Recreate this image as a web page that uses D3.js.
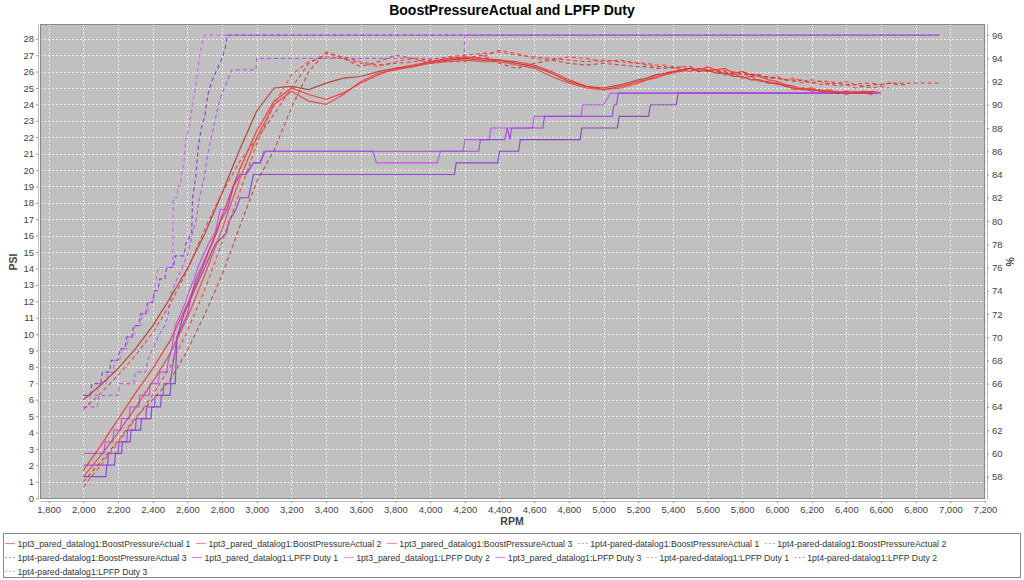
<!DOCTYPE html>
<html><head><meta charset="utf-8">
<script src="https://cdn.jsdelivr.net/npm/d3@7"></script>
<style>body{margin:0;background:#fff;} svg{display:block;font-family:"Liberation Sans",Arial,sans-serif;}</style>
</head><body><svg id="c" width="1024" height="580"></svg>
<script>
const chartTitle = "BoostPressureActual and LPFP Duty";
const xTicks = [1800,2000,2200,2400,2600,2800,3000,3200,3400,3600,3800,4000,4200,4400,4600,4800,5000,5200,5400,5600,5800,6000,6200,6400,6600,6800,7000,7200];
const psiTicks = [0,1,2,3,4,5,6,7,8,9,10,11,12,13,14,15,16,17,18,19,20,21,22,23,24,25,26,27,28];
const pctTicks = [58,60,62,64,66,68,70,72,74,76,78,80,82,84,86,88,90,92,94,96];

// shared RPM grid for boost series
const rpm = [2000,2100,2200,2300,2400,2500,2600,2700,2800,2900,3000,3100,3200,3300,3400,3500,3600,3700,3800,3900,4000,4100,4200,4300,4400,4500,4600,4700,4800,4900,5000,5100,5200,5250,5300,5350,5400,5450,5500,5550,5600,5650,5700,5750,5800,5850,5900,5950,6000,6050,6100,6150,6200,6250,6300,6350,6400,6450,6500,6550,6600,6650,6700,6750,6800,6850,6900,6950];

const bpa1_1pt3 = [6.0,6.9,7.9,9.1,10.5,12.2,14.0,16.1,18.6,21.2,23.6,25.0,25.1,24.9,25.3,25.6,25.7,26.0,26.2,26.3,26.6,26.7,26.8,26.7,26.7,26.5,26.3,25.9,25.4,25.1,25.0,25.2,25.5,25.6,25.8,25.9,26.0,26.1,26.2,26.0,26.1,25.9,25.9,25.7,25.7,25.5,25.5,25.3,25.3,25.1,25.0,24.9,24.9,24.8,24.8,24.7,24.8,24.7,24.8,24.7];
const bpa2_1pt3 = [1.7,3.2,4.8,6.4,7.9,9.6,11.8,14.4,17.2,20.0,22.4,24.2,25.0,24.6,24.3,24.7,25.3,25.8,26.2,26.4,26.6,26.8,26.9,26.8,26.7,26.6,26.4,26.0,25.5,25.1,24.9,25.1,25.4,25.5,25.7,25.8,26.0,26.0,26.2,26.1,26.3,26.1,26.2,25.9,26.0,25.8,25.7,25.5,25.4,25.2,25.1,24.9,25.0,24.8,24.9,24.7,24.8,24.7,24.7,24.8,24.7];
const bpa3_1pt3 = [1.3,2.6,4.0,5.5,7.1,8.8,11.0,13.6,16.4,19.4,22.0,24.0,24.8,24.2,24.0,24.6,25.4,25.9,26.1,26.3,26.5,26.6,26.7,26.6,26.6,26.4,26.2,25.7,25.3,25.0,24.9,25.0,25.3,25.5,25.6,25.8,25.9,26.1,26.0,26.2,26.0,26.1,25.8,25.9,25.6,25.7,25.4,25.4,25.2,25.2,24.9,25.0,24.8,24.9,24.7,24.8,24.6,24.8,24.7,24.6];
const bpa1_1pt4 = [5.4,6.4,7.5,8.7,10.1,11.8,13.9,16.4,18.6,20.5,21.9,23.4,25.0,26.5,27.1,26.9,26.6,26.4,26.5,26.6,26.7,26.9,27.0,27.1,27.2,27.0,26.9,26.8,26.7,26.6,26.7,26.6,26.5,26.4,26.3,26.3,26.2,26.3,26.1,26.2,26.0,26.1,25.9,26.0,25.8,25.9,25.7,25.7,25.6,25.5,25.5,25.3,25.4,25.2,25.3,25.1,25.2,25.0,25.1,25.0,25.1,25.0];
const bpa2_1pt4 = [0.7,2.0,3.4,4.8,6.3,8.0,10.2,12.7,15.6,18.6,21.6,24.0,25.8,26.6,26.9,26.8,26.5,26.3,26.6,26.8,26.7,26.6,26.6,26.9,27.3,27.1,26.8,26.7,26.9,26.8,26.6,26.7,26.5,26.5,26.4,26.4,26.2,26.3,26.3,26.1,26.2,26.0,26.1,25.9,26.0,25.8,25.8,25.6,25.7,25.5,25.6,25.4,25.5,25.4,25.4,25.3,25.4,25.2,25.3,25.3,25.2,25.3,25.3,25.3,25.3,25.3,25.3,25.3];
const bpa3_1pt4 = [1.0,2.2,3.5,4.9,6.0,7.2,9.0,11.2,13.6,16.5,19.3,21.2,23.8,26.0,27.2,26.8,26.3,26.6,27.0,26.8,26.5,26.7,26.8,27.0,26.5,26.2,26.5,26.7,26.5,26.4,26.5,26.4,26.3,26.3,26.2,26.2,26.3,26.1,26.2,26.0,26.1,25.9,26.0,25.8,25.9,25.7,25.8,25.6,25.6,25.5,25.4,25.5,25.3,25.4,25.2,25.3,25.2,25.2,25.1,25.2,25.2,25.3,25.2,25.2];

// LPFP duty series as [rpm, %] vertices
const lpfp1_1pt3 = [[2000,58],[2130,58],[2135,59],[2180,59],[2185,60],[2220,60],[2225,61],[2270,61],[2275,62],[2330,62],[2335,63],[2390,63],[2395,64],[2445,64],[2450,65],[2500,65],[2505,66],[2530,66],[2540,70],[2560,71],[2580,72],[2610,73],[2640,74],[2670,75],[2700,76],[2730,77],[2760,78],[2826,79],[2840,80],[2880,81],[2904,82],[2952,82],[2981,84],[4140,84],[4150,85],[4390,85],[4400,86],[4510,86],[4520,87],[4865,87],[4875,88],[5080,88],[5090,89],[5260,89],[5270,90],[5420,90],[5430,91],[6560,91]];
const lpfp2_1pt3 = [[2000,60],[2120,60],[2125,61],[2170,61],[2175,62],[2215,62],[2220,63],[2265,63],[2270,64],[2320,64],[2325,65],[2380,65],[2385,66],[2430,66],[2440,67],[2480,67],[2490,68],[2510,69],[2530,71],[2560,72],[2590,73],[2610,74],[2640,75],[2660,76],[2690,77],[2720,78],[2760,79],[2790,81],[2830,81],[2865,83],[2904,84],[2932,84],[2981,85],[3019,85],[3040,86],[3670,86],[3690,85],[4040,85],[4060,86],[4190,86],[4200,87],[4340,87],[4350,88],[4590,88],[4600,89],[4870,89],[4880,90],[5000,90],[5040,91],[6600,91]];
const lpfp3_1pt3 = [[2000,59],[2140,59],[2145,60],[2200,60],[2205,61],[2250,61],[2255,62],[2300,62],[2305,63],[2360,63],[2365,64],[2410,64],[2415,65],[2460,65],[2465,66],[2500,66],[2520,68],[2540,70],[2570,71],[2600,72],[2630,74],[2650,75],[2680,76],[2710,77],[2740,78],[2770,79],[2790,80],[2830,81],[2865,83],[2904,84],[2940,84],[2981,85],[3019,85],[3050,86],[4280,86],[4290,87],[4430,87],[4445,88],[4460,87],[4470,88],[4650,88],[4660,89],[5050,89],[5060,90],[5075,90],[5085,91],[6580,91]];
const lpfp1_1pt4 = [[2000,64],[2030,64],[2040,65],[2080,65],[2090,66],[2130,66],[2140,67],[2170,67],[2180,68],[2210,68],[2220,69],[2250,69],[2260,70],[2290,70],[2300,71],[2330,71],[2340,72],[2370,72],[2380,73],[2400,73],[2410,74],[2420,75],[2430,76],[2515,76],[2519,82],[2540,82],[2545,83],[2560,83],[2565,84],[2580,85],[2590,87],[2610,88],[2620,89],[2640,91],[2660,93],[2680,95],[2700,96],[6940,96]];
const lpfp2_1pt4 = [[2000,65],[2040,65],[2050,66],[2100,66],[2110,67],[2150,67],[2160,68],[2200,68],[2210,69],[2240,69],[2250,70],[2280,70],[2290,71],[2320,71],[2330,72],[2360,72],[2370,73],[2400,73],[2410,74],[2430,74],[2440,75],[2470,75],[2480,76],[2520,76],[2530,77],[2580,77],[2590,78],[2625,79],[2630,82],[2650,84],[2660,86],[2680,88],[2700,89],[2720,91],[2740,92],[2770,93],[2800,94],[2820,95],[2830,96],[6940,96]];
const lpfp3_1pt4 = [[2000,64],[2080,64],[2090,65],[2200,65],[2210,66],[2290,66],[2300,67],[2360,67],[2370,68],[2400,69],[2430,70],[2470,71],[2490,72],[2510,74],[2540,75],[2570,76],[2600,77],[2630,79],[2650,80],[2670,82],[2700,84],[2720,86],[2750,88],[2780,90],[2800,91],[2830,92],[2855,93],[2995,93],[3000,94],[4195,94],[4200,96],[6940,96]];

const seriesNames = [
 "1pt3_pared_datalog1:BoostPressureActual 1","1pt3_pared_datalog1:BoostPressureActual 2","1pt3_pared_datalog1:BoostPressureActual 3",
 "1pt4-pared-datalog1:BoostPressureActual 1","1pt4-pared-datalog1:BoostPressureActual 2","1pt4-pared-datalog1:BoostPressureActual 3",
 "1pt3_pared_datalog1:LPFP Duty 1","1pt3_pared_datalog1:LPFP Duty 2","1pt3_pared_datalog1:LPFP Duty 3",
 "1pt4-pared-datalog1:LPFP Duty 1","1pt4-pared-datalog1:LPFP Duty 2","1pt4-pared-datalog1:LPFP Duty 3"];
const seriesColors = ["#b4302c","#ff2a2a","#ee3b3b","#e8403a","#ff3a3a","#c0403c","#8c3cc8","#c050f0","#a040e0","#c864ff","#9038c0","#b458f0"];
const legendRows = [5,6,1];

const boostVals = [bpa1_1pt3,bpa2_1pt3,bpa3_1pt3,bpa1_1pt4,bpa2_1pt4,bpa3_1pt4];
const lpfpVals = [lpfp1_1pt3,lpfp2_1pt3,lpfp3_1pt3,lpfp1_1pt4,lpfp2_1pt4,lpfp3_1pt4];

const svg = d3.select("#c");
const W=1024,H=580;
const P={l:40,r:985,t:24,b:499};
const x=d3.scaleLinear().domain([1750,7200]).range([P.l,P.r]);
const yL=d3.scaleLinear().domain([-0.05,28.9]).range([P.b,P.t]);
const yR=d3.scaleLinear().domain([56.08,96.95]).range([P.b,P.t]);

svg.append("rect").attr("width",W).attr("height",H).attr("fill","#fff");
svg.append("text").attr("x",512).attr("y",15).attr("text-anchor","middle")
  .attr("font-weight","bold").attr("font-size",14).attr("fill","#000").text(chartTitle);

svg.append("rect").attr("x",P.l).attr("y",P.t).attr("width",P.r-P.l).attr("height",P.b-P.t).attr("fill","#c0c0c0");

const grid = svg.append("g");
grid.selectAll(".gx").data(xTicks.filter(t=>x(t)>P.l && x(t)<=P.r)).join("line")
  .attr("x1",d=>Math.round(x(d))+0.5).attr("x2",d=>Math.round(x(d))+0.5).attr("y1",P.t).attr("y2",P.b)
  .attr("stroke","#ececec").attr("stroke-dasharray","2,2").attr("stroke-width",1);
grid.selectAll(".gy").data(psiTicks).join("line")
  .attr("y1",d=>Math.round(yL(d))+0.5).attr("y2",d=>Math.round(yL(d))+0.5).attr("x1",P.l).attr("x2",P.r)
  .attr("stroke","#ececec").attr("stroke-dasharray","2,2").attr("stroke-width",1);

svg.append("clipPath").attr("id","clip").append("rect").attr("x",P.l).attr("y",P.t).attr("width",P.r-P.l).attr("height",P.b-P.t);
const g = svg.append("g").attr("clip-path","url(#clip)");

const lineL = d3.line().x(d=>x(d[0])).y(d=>yL(d[1]));
const lineR = d3.line().x(d=>x(d[0])).y(d=>yR(d[1]));

// LPFP first (underneath), then boost
lpfpVals.forEach((arr,i)=>{
  g.append("path").attr("d",lineR(arr)).attr("fill","none")
   .attr("stroke",seriesColors[6+i]).attr("stroke-width",1.2).attr("stroke-opacity",0.9)
   .attr("stroke-dasharray", i>=3 ? "4,3" : null);
});
boostVals.forEach((vals,i)=>{
  const pts = vals.map((v,k)=>[rpm[k],v]);
  g.append("path").attr("d",lineL(pts)).attr("fill","none")
   .attr("stroke",seriesColors[i]).attr("stroke-width",1.2).attr("stroke-opacity",0.85)
   .attr("stroke-dasharray", i>=3 ? "4,3" : null);
});

// plot outline
svg.append("rect").attr("x",P.l+0.5).attr("y",P.t+0.5).attr("width",P.r-P.l-1).attr("height",P.b-P.t-1)
  .attr("fill","none").attr("stroke","#888");

function styleAxis(sel){
  sel.selectAll("text").attr("fill","#444").attr("font-size",9.5).attr("font-family","Liberation Sans, Arial, sans-serif");
  sel.selectAll(".tick line").attr("stroke","#999");
  sel.select(".domain").attr("stroke","#bbb");
}
const ax = svg.append("g").attr("transform",`translate(0,${P.b+2})`)
  .call(d3.axisBottom(x).tickValues(xTicks).tickFormat(d3.format(",")).tickSize(2).tickSizeOuter(0).tickPadding(3));
styleAxis(ax);
const ayl = svg.append("g").attr("transform",`translate(${P.l-2},0)`)
  .call(d3.axisLeft(yL).tickValues(psiTicks).tickSize(2).tickSizeOuter(0).tickPadding(2));
styleAxis(ayl);
const ayr = svg.append("g").attr("transform",`translate(${P.r+2},0)`)
  .call(d3.axisRight(yR).tickValues(pctTicks).tickSize(2).tickSizeOuter(0).tickPadding(3));
styleAxis(ayr);

svg.append("text").attr("x",512).attr("y",525).attr("text-anchor","middle").attr("font-size",10.5).attr("font-weight","bold").attr("fill","#444").text("RPM");
svg.append("text").attr("transform","translate(17,262) rotate(-90)").attr("text-anchor","middle").attr("font-size",10.5).attr("font-weight","bold").attr("fill","#444").text("PSI");
svg.append("text").attr("transform","translate(1006,262) rotate(90)").attr("text-anchor","middle").attr("font-size",10.5).attr("font-weight","bold").attr("fill","#444").text("%");

// legend
const lg = svg.append("g");
lg.append("rect").attr("x",3.5).attr("y",533.5).attr("width",1017).attr("height",44).attr("fill","#fff").attr("stroke","#888");
let idx=0;
legendRows.forEach((n,r)=>{
  let cx = 5;
  const cy = 543.5 + r*14;
  for(let k=0;k<n;k++,idx++){
    lg.append("line").attr("x1",cx).attr("x2",cx+10).attr("y1",cy).attr("y2",cy)
      .attr("stroke",seriesColors[idx]).attr("stroke-opacity",0.55).attr("stroke-width",1.2)
      .attr("stroke-dasharray", (idx>=3&&idx<=5)||idx>=9 ? "2,2" : null);
    const t = lg.append("text").attr("x",cx+12.5).attr("y",cy+3.2).attr("font-size",8.7).attr("fill","#333").text(seriesNames[idx]);
    cx += 12.5 + t.node().getComputedTextLength() + 5.5;
  }
});
</script></body></html>
